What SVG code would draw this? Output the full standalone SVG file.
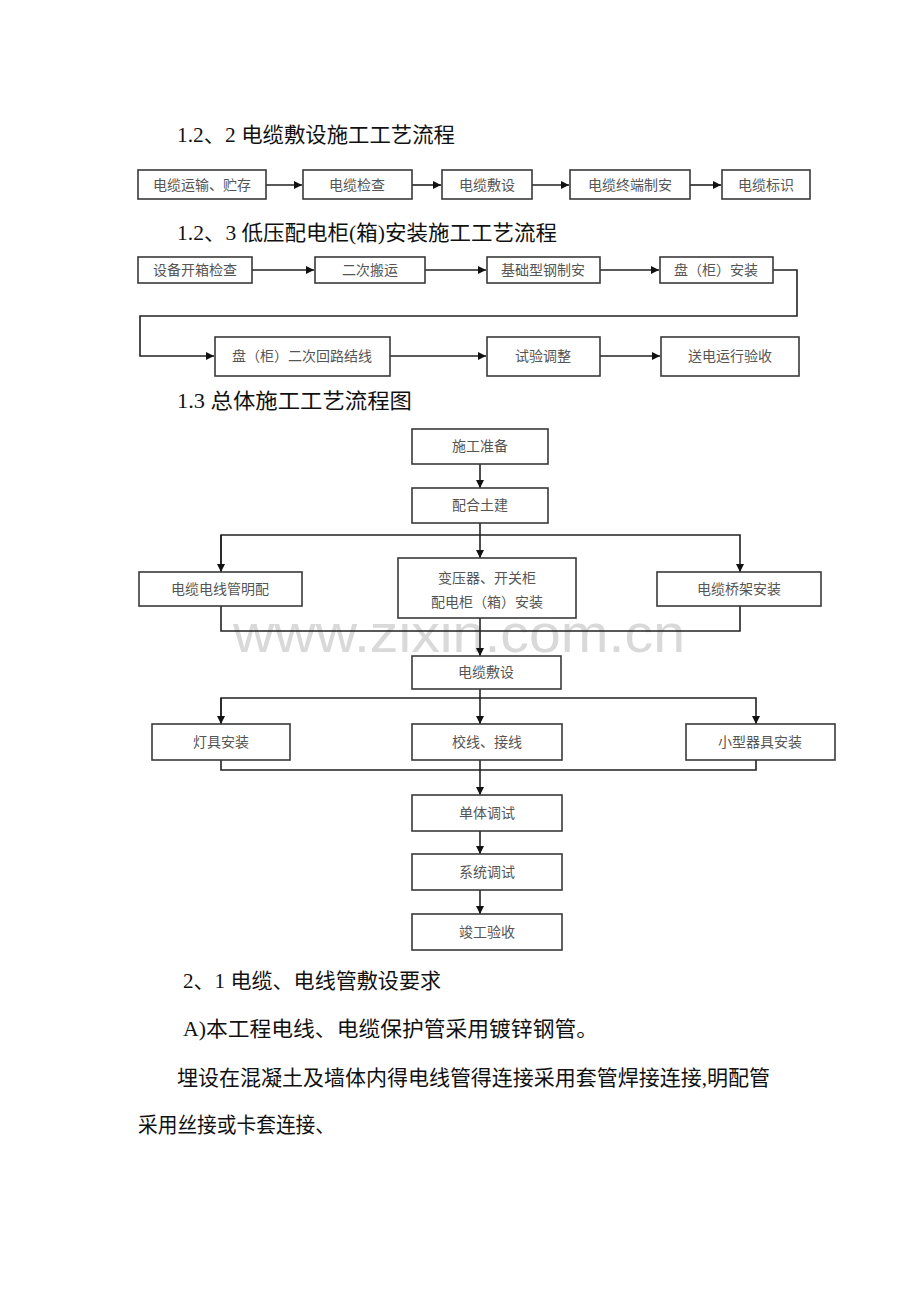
<svg xmlns="http://www.w3.org/2000/svg" width="920" height="1302" viewBox="0 0 920 1302">
<style>
.t{font-family:"Liberation Serif","Noto Sans CJK SC",serif;font-size:21px;fill:#111}
.b rect{fill:#fff;stroke:#3a3a3a;stroke-width:1.6}
.b text{font-family:"Noto Sans CJK SC",sans-serif;font-size:14px;fill:#555;text-anchor:middle}
.c path{fill:none;stroke:#222;stroke-width:1.6}
.wm{font-family:"Liberation Sans",sans-serif;font-size:54px;fill:#d9d9d9}
</style>
<defs>
<marker id="a" viewBox="0 0 10 10" refX="10" refY="5" markerWidth="8" markerHeight="8" orient="auto" markerUnits="userSpaceOnUse">
<path d="M0,0 L10,5 L0,10 z" fill="#111"/>
</marker>
</defs>
<rect width="920" height="1302" fill="#fff"/>
<text class="t" x="177" y="142" textLength="278" lengthAdjust="spacingAndGlyphs">1.2、2 电缆敷设施工工艺流程</text>
<text class="t" x="177" y="240" textLength="380" lengthAdjust="spacingAndGlyphs">1.2、3 低压配电柜(箱)安装施工工艺流程</text>
<text class="t" x="177" y="408" textLength="235" lengthAdjust="spacingAndGlyphs">1.3 总体施工工艺流程图</text>

<text class="wm" x="233" y="652" textLength="452" lengthAdjust="spacingAndGlyphs">www.zixin.com.cn</text>

<g class="c">
<path d="M266,185 H302" marker-end="url(#a)"/>
<path d="M412,185 H441" marker-end="url(#a)"/>
<path d="M532,185 H569" marker-end="url(#a)"/>
<path d="M690,185 H721" marker-end="url(#a)"/>
<path d="M252,270 H314" marker-end="url(#a)"/>
<path d="M425,270 H486" marker-end="url(#a)"/>
<path d="M600,270 H659" marker-end="url(#a)"/>
<path d="M773,270 H797 V316 H140 V356 H214" marker-end="url(#a)"/>
<path d="M390,356 H486" marker-end="url(#a)"/>
<path d="M600,356 H660" marker-end="url(#a)"/>
<path d="M480,464 V488" marker-end="url(#a)"/>
<path d="M480,523 V558" marker-end="url(#a)"/>
<path d="M221,572 V535 H740 V572" marker-end="url(#a)"/>
<path d="M221,535 V572" marker-end="url(#a)"/>
<path d="M221,606 V631 H740 V606"/>
<path d="M480,618 V656" marker-end="url(#a)"/>
<path d="M480,689 V724" marker-end="url(#a)"/>
<path d="M221,724 V698 H756 V724" marker-end="url(#a)"/>
<path d="M221,698 V724" marker-end="url(#a)"/>
<path d="M221,760 V770 H756 V760"/>
<path d="M480,760 V795" marker-end="url(#a)"/>
<path d="M480,831 V854" marker-end="url(#a)"/>
<path d="M480,890 V914" marker-end="url(#a)"/>
</g>

<g id="n1" class="b"><rect x="138" y="170" width="128" height="29"/><text x="202" y="190">电缆运输、贮存</text></g>
<g id="n2" class="b"><rect x="303" y="170" width="109" height="29"/><text x="357" y="190">电缆检查</text></g>
<g id="n3" class="b"><rect x="442" y="170" width="90" height="29"/><text x="487" y="190">电缆敷设</text></g>
<g id="n4" class="b"><rect x="570" y="170" width="120" height="29"/><text x="630" y="190">电缆终端制安</text></g>
<g id="n5" class="b"><rect x="722" y="170" width="88" height="29"/><text x="766" y="190">电缆标识</text></g>

<g id="m1" class="b"><rect x="138" y="257" width="114" height="26"/><text x="195" y="275">设备开箱检查</text></g>
<g id="m2" class="b"><rect x="315" y="257" width="110" height="26"/><text x="370" y="275">二次搬运</text></g>
<g id="m3" class="b"><rect x="487" y="257" width="113" height="26"/><text x="543" y="275">基础型钢制安</text></g>
<g id="m4" class="b"><rect x="660" y="257" width="113" height="26"/><text x="716" y="275">盘（柜）安装</text></g>
<g id="m5" class="b"><rect x="215" y="337" width="175" height="39"/><text x="302" y="361">盘（柜）二次回路结线</text></g>
<g id="m6" class="b"><rect x="487" y="337" width="113" height="39"/><text x="543" y="361">试验调整</text></g>
<g id="m7" class="b"><rect x="661" y="337" width="138" height="39"/><text x="730" y="361">送电运行验收</text></g>

<g id="s1" class="b"><rect x="412" y="429" width="136" height="35"/><text x="480" y="451">施工准备</text></g>
<g id="s2" class="b"><rect x="412" y="488" width="136" height="35"/><text x="480" y="510">配合土建</text></g>
<g id="s3" class="b"><rect x="139" y="572" width="163" height="34"/><text x="220" y="594">电缆电线管明配</text></g>
<g id="s4" class="b"><rect x="398" y="558" width="178" height="60"/><text x="487" y="583">变压器、开关柜</text><text x="487" y="607">配电柜（箱）安装</text></g>
<g id="s5" class="b"><rect x="657" y="572" width="164" height="34"/><text x="739" y="594">电缆桥架安装</text></g>
<g id="s6" class="b"><rect x="412" y="656" width="149" height="33"/><text x="486" y="677">电缆敷设</text></g>
<g id="s7" class="b"><rect x="152" y="724" width="138" height="36"/><text x="221" y="747">灯具安装</text></g>
<g id="s8" class="b"><rect x="412" y="724" width="150" height="36"/><text x="487" y="747">校线、接线</text></g>
<g id="s9" class="b"><rect x="686" y="724" width="149" height="36"/><text x="760" y="747">小型器具安装</text></g>
<g id="s10" class="b"><rect x="412" y="795" width="150" height="36"/><text x="487" y="818">单体调试</text></g>
<g id="s11" class="b"><rect x="412" y="854" width="150" height="36"/><text x="487" y="877">系统调试</text></g>
<g id="s12" class="b"><rect x="412" y="914" width="150" height="36"/><text x="487" y="937">竣工验收</text></g>

<text class="t" x="183" y="988" textLength="258" lengthAdjust="spacingAndGlyphs">2、1 电缆、电线管敷设要求</text>
<text class="t" x="183" y="1036" textLength="415" lengthAdjust="spacingAndGlyphs">A)本工程电线、电缆保护管采用镀锌钢管。</text>
<text class="t" x="177" y="1085" textLength="593" lengthAdjust="spacingAndGlyphs">埋设在混凝土及墙体内得电线管得连接采用套管焊接连接,明配管</text>
<text class="t" x="138" y="1132" textLength="197" lengthAdjust="spacingAndGlyphs">采用丝接或卡套连接、</text>
</svg>
